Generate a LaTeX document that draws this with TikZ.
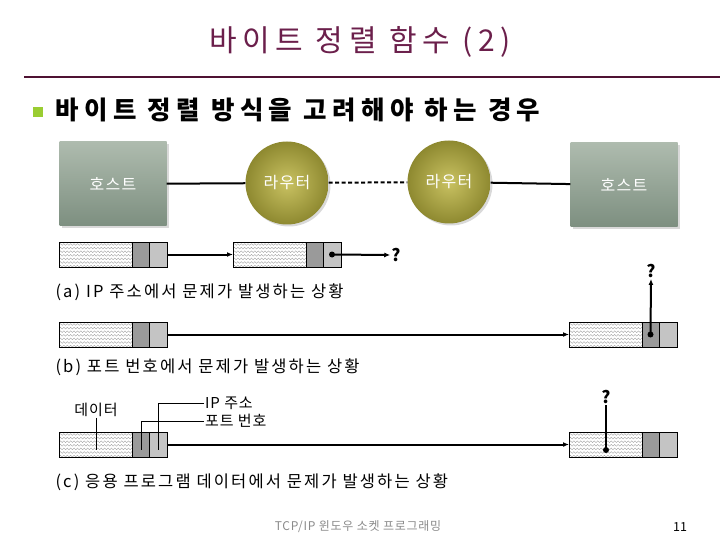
\documentclass[tikz,border=0pt]{standalone}
\usepackage{fontspec}
\setmainfont{Noto Sans CJK KR}
\usepackage{tikz}
\usetikzlibrary{arrows.meta,positioning,decorations.pathmorphing,shadows}
\definecolor{titlered}{HTML}{6B1F4B}
\definecolor{rulered}{HTML}{4F1232}
\definecolor{bulletgreen}{HTML}{9ACD32}
\definecolor{hosttop}{HTML}{AEBBAE}
\definecolor{hostbot}{HTML}{7D8F80}
\definecolor{routerin}{HTML}{C9C262}
\definecolor{routerout}{HTML}{8E8930}
\definecolor{cellgray}{HTML}{9A9A9A}
\definecolor{celllight}{HTML}{C4C4C4}
\definecolor{hatchgray}{HTML}{9C9C9C}
\definecolor{footgray}{HTML}{8A8A8A}

\begin{document}
\begin{tikzpicture}[x=1pt,y=-1pt,
  host/.style={rectangle,minimum width=107pt,minimum height=84pt,
    top color=hosttop,bottom color=hostbot,text=white,
    font=\fontsize{16}{16}\selectfont\addfontfeatures{LetterSpace=8},
    drop shadow={opacity=.3,shadow xshift=2pt,shadow yshift=-2pt}},
  router/.style={circle,minimum size=83pt,inner sep=0pt,
    inner color=routerin,outer color=routerout,text=white,
    font=\fontsize{16}{16}\selectfont\addfontfeatures{LetterSpace=8},
    drop shadow={opacity=.3,shadow xshift=2pt,shadow yshift=-2pt}},
  cell/.style={rectangle,draw=black,line width=0.8pt,minimum height=25pt,
    inner sep=0pt,outer sep=0pt},
  datacell/.style={cell,minimum width=73pt},
  portcell/.style={cell,fill=cellgray,minimum width=17pt},
  ipcell/.style={cell,fill=celllight,minimum width=18pt},
  hatch/.style={decorate,decoration={snake,amplitude=0.9pt,segment length=3.4pt},
    draw=hatchgray,line width=0.35pt},
  link/.style={line width=2pt},
  flow/.style={-{Latex[length=6pt,width=5pt]},line width=2pt},
  lab/.style={font=\fontsize{16.5}{17}\selectfont\addfontfeatures{LetterSpace=13},
    anchor=west},
  small/.style={font=\fontsize{15}{15}\selectfont\addfontfeatures{LetterSpace=6},
    inner sep=1pt},
  query/.style={font=\fontsize{17}{17}\selectfont\bfseries,inner sep=1pt},
  leader/.style={line width=0.6pt}
]
\useasboundingbox (0,0) rectangle (720,540);

% title
\node[font=\fontsize{30}{30}\selectfont\addfontfeatures{LetterSpace=19},
  text=titlered] (title) at (360,42) {바이트 정렬 함수 (2)};
\draw[rulered,line width=2.5pt] (24,77) -- (720,77);
\fill[bulletgreen] (33,107) rectangle (43,117);
\node[anchor=west,font=\fontsize{25.5}{26}\selectfont\bfseries
  \addfontfeatures{LetterSpace=21}] (topic) at (52,110)
  {바이트 정렬 방식을 고려해야 하는 경우};

% network
\node[host] (host1) at (113,184) {호스트};
\node[router] (r1) at (287,183) {라우터};
\node[router] (r2) at (449,182) {라우터};
\node[host] (host2) at (624,185) {호스트};
\draw[link] (host1) -- (r1);
\draw[link,dash pattern=on 4pt off 2.5pt] (r1) -- (r2);
\draw[link] (r2) -- (host2);

% packets
\foreach \n/\x/\y in {a1/59/242, a2/233/242, b1/59/322, b2/569/322,
                      c1/59/432, c2/569/432} {
  \begin{scope}
    \clip (\x,\y) rectangle ++(73,25);
    \foreach \k in {0,...,6}
      \draw[hatch] (\x-3,\y+2.5+3.6*\k) -- ++(80,0);
  \end{scope}
  \node[datacell,anchor=north west] (\n d) at (\x,\y) {};
  \node[portcell,right=0pt of \n d] (\n p) {};
  \node[ipcell,right=0pt of \n p] (\n i) {};
}

% (a)
\node[query] (qa1) at (396,255) {?};
\node[query] (qa2) at (651,271) {?};
\draw[flow] (a1i.east) -- (a2d.west);
\fill (a2i.center) circle (3pt);
\draw[flow] (a2i.center) -- (qa1.west);
\node[lab] (capa) at (52,292) {(a) IP 주소에서 문제가 발생하는 상황};

% (b)
\draw[flow] (b1i.east) -- (b2d.west);
\fill (b2p.center) circle (3pt);
\draw[flow] (b2p.center) -- (qa2.south);
\node[lab] (capb) at (52,367) {(b) 포트 번호에서 문제가 발생하는 상황};

% (c)
\node[query] (qc) at (606,397) {?};
\node[small] (datalbl) at (96,410) {데이터};
\node[small,anchor=west] (iplbl) at (204,403) {IP 주소};
\node[small,anchor=west] (portlbl) at (204,421) {포트 번호};
\coordinate (datapt) at (96,450);
\coordinate (ippt) at (158,450);
\coordinate (portpt) at (141,450);
\coordinate (errpt) at (606,450);
\draw[leader] (datalbl.south) -- (datapt);
\draw[leader] (iplbl.west) -| (ippt);
\draw[leader] (portlbl.west) -| (portpt);
\draw[flow] (c1i.east) -- (c2d.west);
\fill (errpt) circle (3pt);
\draw[line width=2pt] (errpt) -- (qc.south);
\node[lab] (capc) at (52,482) {(c) 응용 프로그램 데이터에서 문제가 발생하는 상황};

% footer
\node[font=\fontsize{12}{12}\selectfont\addfontfeatures{LetterSpace=6},
  text=footgray] (foot) at (358,527) {TCP/IP 윈도우 소켓 프로그래밍};
\node[font=\fontsize{12.5}{12.5}\selectfont] (page) at (680,527) {11};
\end{tikzpicture}
\end{document}
